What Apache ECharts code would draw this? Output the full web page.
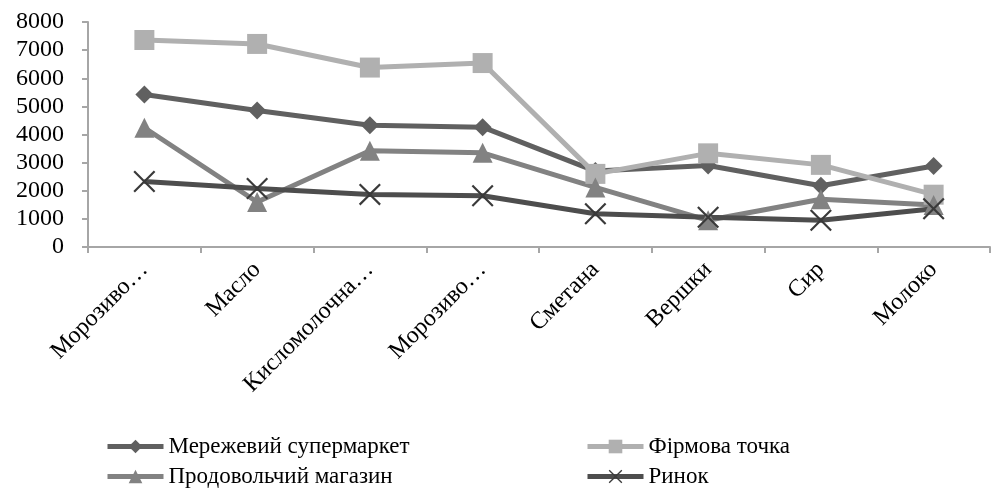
<!DOCTYPE html>
<html><head><meta charset="utf-8">
<script src="https://cdn.jsdelivr.net/npm/echarts@6/dist/echarts.min.js"></script>
<style>html,body{margin:0;padding:0;background:#fff}#c{width:992px;height:494px}</style>
</head><body><div id="c"></div>
<script>
var categories = ['Морозиво…', 'Масло', 'Кисломолочна…', 'Морозиво…', 'Сметана', 'Вершки', 'Сир', 'Молоко'];
var seriesNames = ['Мережевий супермаркет', 'Фірмова точка', 'Продовольчий магазин', 'Ринок'];
var supermarket = [5420, 4850, 4330, 4260, 2700, 2900, 2180, 2880];
var brandStore = [7360, 7220, 6380, 6540, 2600, 3330, 2920, 1860];
var foodShop = [4240, 1600, 3420, 3350, 2120, 950, 1700, 1490];
var market = [2330, 2080, 1870, 1820, 1180, 1060, 950, 1360];
var yTicks = [0, 1000, 2000, 3000, 4000, 5000, 6000, 7000, 8000];

var font = 'Liberation Serif';
var xPath = 'path://M0,0.7L0.7,0L5,4.3L9.3,0L10,0.7L5.7,5L10,9.3L9.3,10L5,5.7L0.7,10L0,9.3L4.3,5Z';
function mk(name, data, color, symbol, size, symColor) {
  return {
    name: name, type: 'line', data: data, symbol: symbol, symbolSize: size,
    lineStyle: {color: color, width: 5}, itemStyle: {color: symColor || color},
    emphasis: {disabled: true}, animation: false
  };
}
function lg(name, left, top) {
  return {
    left: left, top: top, itemWidth: 56, itemHeight: 17, itemGap: 5, padding: 0,
    data: [name], lineStyle: {width: 5},
    textStyle: {fontFamily: font, fontSize: 23, color: '#000'}
  };
}
var chart = echarts.init(document.getElementById('c'));
chart.setOption({
  animation: false,
  textStyle: {fontFamily: font},
  grid: {left: 88, top: 22, right: 2, bottom: 247, containLabel: false},
  xAxis: {
    type: 'category', data: categories, boundaryGap: true,
    axisLine: {lineStyle: {color: '#a6a6a6', width: 2}},
    axisTick: {show: true, length: 6, lineStyle: {color: '#a6a6a6', width: 2}},
    axisLabel: {rotate: 45, fontFamily: font, fontSize: 24, color: '#000', margin: 19, interval: 0}
  },
  yAxis: {
    type: 'value', min: yTicks[0], max: yTicks[yTicks.length - 1], interval: 1000,
    splitLine: {show: false},
    axisLine: {show: true, lineStyle: {color: '#a6a6a6', width: 2}},
    axisTick: {show: true, length: 6, lineStyle: {color: '#a6a6a6', width: 2}},
    axisLabel: {fontFamily: font, fontSize: 24, color: '#000', margin: 24,
      formatter: function (v) { return String(v); }}
  },
  legend: [
    lg(seriesNames[0], 105, 435),
    lg(seriesNames[2], 105, 465),
    lg(seriesNames[1], 585, 435),
    lg(seriesNames[3], 585, 465)
  ],
  series: [
    mk(seriesNames[0], supermarket, '#606060', 'diamond', 18),
    mk(seriesNames[1], brandStore, '#b0b0b0', 'rect', 20),
    mk(seriesNames[2], foodShop, '#828282', 'triangle', 20),
    mk(seriesNames[3], market, '#4d4d4d', xPath, 22, '#3a3a3a')
  ]
});
</script></body></html>
